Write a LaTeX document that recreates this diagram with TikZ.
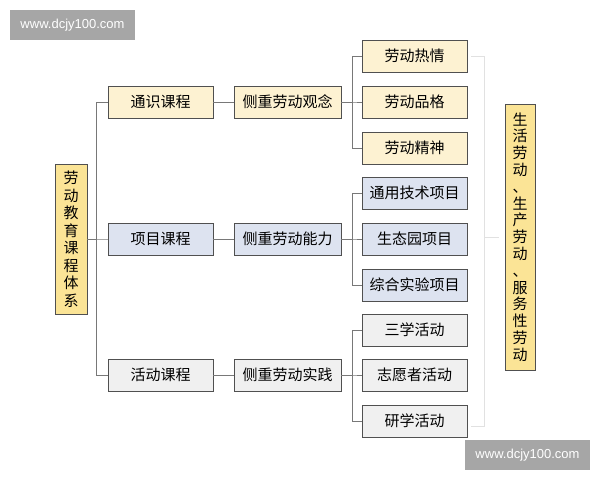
\documentclass[tikz,border=0pt]{standalone}
\usepackage{fontspec}
\newfontfamily\cjk{Noto Sans CJK SC}
\setsansfont{Liberation Sans}
\usetikzlibrary{positioning}

\definecolor{boxline}{RGB}{80,80,80}
\definecolor{linegray}{RGB}{120,120,120}
\definecolor{lightline}{RGB}{225,225,225}
\definecolor{fillyellow}{RGB}{253,242,210}
\definecolor{fillblue}{RGB}{221,227,240}
\definecolor{fillgray}{RGB}{240,240,240}
\definecolor{fillgold}{RGB}{251,228,150}
\definecolor{wmgray}{RGB}{166,166,166}

\tikzset{
  box/.style={draw=boxline, line width=0.8pt, minimum height=32pt, inner sep=0pt,
              font=\cjk\fontsize{15}{18}\selectfont},
  ybox/.style={box, fill=fillyellow},
  bbox/.style={box, fill=fillblue},
  gbox/.style={box, fill=fillgray},
  tallbox/.style={box, fill=fillgold, align=center},
  link/.style={draw=linegray, line width=0.7pt},
  faint/.style={draw=lightline, line width=0.7pt},
  wmark/.style={fill=wmgray, text=white, inner sep=0pt, minimum width=125pt,
                minimum height=30pt, font=\sffamily\fontsize{13}{15}\selectfont}
}

\begin{document}
\begin{tikzpicture}[x=1pt,y=-1pt]
    \useasboundingbox (0,0) rectangle (600,480);
    \pgfmathsetmacro {\xa}{160.5} %Centre of course column
    \pgfmathsetmacro {\xb}{287.5} %Centre of focus column
    \pgfmathsetmacro {\xc}{414.5} %Centre of item column

    % Root and summary
    \node[tallbox, minimum width=32pt, minimum height=150pt,
          font=\cjk\fontsize{15}{17.5}\selectfont] (root) at (71,239)
          {劳\\动\\教\\育\\课\\程\\体\\系};
    \node[tallbox, minimum width=30pt, minimum height=266pt,
          font=\cjk\fontsize{15}{16.8}\selectfont] (life) at (520,237)
          {生\\活\\劳\\动\\、\\生\\产\\劳\\动\\、\\服\\务\\性\\劳\\动};

    % Courses and their focus
    \foreach \k/\f/\y/\ktxt/\ftxt/\sty in
        {k1/f1/102/通识课程/侧重劳动观念/ybox,
         k2/f2/239/项目课程/侧重劳动能力/bbox,
         k3/f3/375/活动课程/侧重劳动实践/gbox} {
        \node[\sty, minimum width=105pt] (\k) at (\xa,\y) {\ktxt};
        \node[\sty, minimum width=107pt] (\f) at (\xb,\y) {\ftxt};
        \draw[link] (\k.west) -- ++(-11,0) |- (root.east); %Trunk to course
        \draw[link] (\k) -- (\f);
    }

    % Items under each focus
    \foreach \n/\p/\y/\txt/\sty in
        {a1/f1/56/劳动热情/ybox, a2/f1/102/劳动品格/ybox, a3/f1/148/劳动精神/ybox,
         b1/f2/193/通用技术项目/bbox, b2/f2/239/生态园项目/bbox, b3/f2/285/综合实验项目/bbox,
         c1/f3/330/三学活动/gbox, c2/f3/375/志愿者活动/gbox, c3/f3/421/研学活动/gbox} {
        \node[\sty, minimum width=105pt] (\n) at (\xc,\y) {\txt};
        \draw[link] (\p.east) -- ++(11,0) |- (\n.west);
    }

    % Bracket towards the summary
    \draw[faint] ([xshift=4pt]a1.east) -- ++(13,0) coordinate (bt)
                 |- ([xshift=4pt,yshift=-5pt]c3.east);
    \draw[faint] (bt |- life.west) -- ([xshift=-6pt]life.west);

    % Watermarks
    \node[wmark] (wm1) at (72.5,25) {www.dcjy100.com};
    \node[wmark] (wm2) at (527.5,455) {www.dcjy100.com};
\end{tikzpicture}
\end{document}
